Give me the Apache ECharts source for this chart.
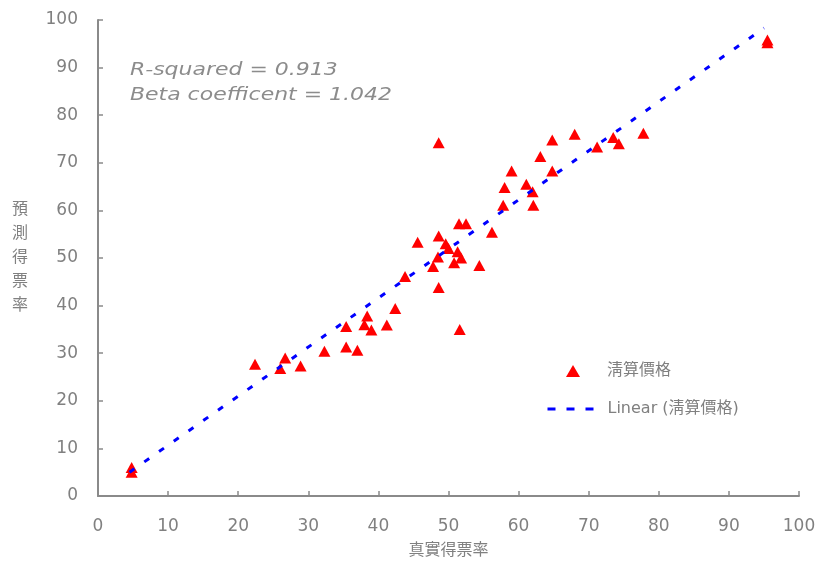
<!DOCTYPE html>
<html>
<head>
<meta charset="utf-8">
<script src="https://cdn.jsdelivr.net/npm/echarts@6/dist/echarts.min.js"></script>
<style>html,body{margin:0;padding:0;background:#fff;}#c{width:822px;height:561px;}</style>
</head>
<body>
<div id="c"></div>
<script>
// Actual vote share (x) and predicted vote share (y)
const actualX = [4.8, 4.8, 22.4, 26.0, 26.7, 28.9, 32.3, 35.4, 37.0, 35.4, 38.0, 38.4, 39.0, 41.2, 42.4, 43.8,
  45.6, 48.6, 49.6, 50.0, 51.3, 51.8, 48.5, 50.8, 47.8, 54.4, 48.6, 51.6, 51.5, 52.5, 56.2,
  57.8, 58.0, 59.0, 61.1, 62.0, 62.1, 63.1, 64.8, 64.8, 48.6, 68.0, 71.2, 73.5, 74.3, 77.8, 95.5, 95.5];
const predictedY = [6.0, 5.0, 27.7, 26.8, 29.0, 27.3, 30.4, 31.3, 30.6, 35.6, 36.0, 37.8, 34.9, 35.9, 39.4, 46.1,
  53.3, 54.6, 53.0, 52.0, 51.3, 50.0, 50.2, 49.0, 48.2, 48.4, 43.8, 35.0, 57.2, 57.2, 55.4,
  61.1, 64.8, 68.3, 65.5, 63.9, 61.1, 71.3, 68.3, 74.8, 74.2, 76.0, 73.3, 75.3, 74.0, 76.2, 95.8, 95.2];
// Linear trendline endpoints
const trendX = [4.5, 95.0];
const trendY = [5.0, 98.3];
const xTicks = [0, 10, 20, 30, 40, 50, 60, 70, 80, 90, 100];
const yTicks = [0, 10, 20, 30, 40, 50, 60, 70, 80, 90, 100];
const seriesName = '淸算價格';
const trendName = 'Linear (淸算價格)';
const statLines = ['R-squared = 0.913', 'Beta coefficent = 1.042'];

const FONT = 'DejaVu Sans, "Noto Sans CJK KR", sans-serif';
const GRAY = '#808080';
const chart = echarts.init(document.getElementById('c'), null, {renderer: 'canvas'});
const scatterData = actualX.map((x, i) => [x, predictedY[i]]);
const trendData = trendX.map((x, i) => [x, trendY[i]]);
const axisCommon = {
  type: 'value', min: xTicks[0], max: xTicks[xTicks.length - 1], interval: 10,
  axisLine: {show: true, lineStyle: {color: '#8a8a8a', width: 2}},
  axisTick: {show: true, inside: true, length: 5, lineStyle: {color: '#8a8a8a', width: 1.5}},
  splitLine: {show: false},
  axisLabel: {color: GRAY, fontSize: 17, fontFamily: FONT},
  nameTextStyle: {color: GRAY, fontSize: 16, fontFamily: FONT}
};
const legendText = {color: GRAY, fontSize: 16, fontFamily: FONT, lineHeight: 20};
chart.setOption({
  animation: false,
  backgroundColor: '#fff',
  grid: {left: 98, right: 23, top: 20, bottom: 65, containLabel: false, outerBoundsMode: 'none'},
  xAxis: Object.assign({}, axisCommon, {
    name: '真實得票率', nameLocation: 'middle', nameGap: 47,
    axisLabel: Object.assign({}, axisCommon.axisLabel, {margin: 22})
  }),
  yAxis: Object.assign({}, axisCommon, {
    min: yTicks[0], max: yTicks[yTicks.length - 1],
    name: '預\n測\n得\n票\n率', nameLocation: 'middle', nameGap: 70, nameRotate: 0,
    nameTextStyle: {color: GRAY, fontSize: 16, fontFamily: FONT, lineHeight: 24, align: 'right'},
    axisLabel: Object.assign({}, axisCommon.axisLabel, {margin: 20})
  }),
  legend: [
    {
      left: 566, top: 361, padding: 0, itemWidth: 14, itemHeight: 12,
      textStyle: Object.assign({}, legendText, {padding: [0, 0, 0, 22]}),
      data: [{name: seriesName, icon: 'triangle'}]
    },
    {
      left: 546, top: 399, padding: 0, itemWidth: 46, itemHeight: 14,
      itemStyle: {color: 'rgba(0,0,0,0)', borderWidth: 0},
      lineStyle: {type: [8, 11], width: 3},
      textStyle: Object.assign({}, legendText, {padding: [0, 0, 0, 9]}),
      data: [{name: trendName}]
    }
  ],
  graphic: [
    {type: 'text', left: 130, top: 61, scaleX: 1.22, style: {text: statLines[0], fill: '#8c8c8c', font: 'italic 18px DejaVu Sans'}},
    {type: 'text', left: 130, top: 86, scaleX: 1.22, style: {text: statLines[1], fill: '#8c8c8c', font: 'italic 18px DejaVu Sans'}}
  ],
  series: [
    {
      name: trendName, type: 'line', data: trendData, symbol: 'none', z: 3,
      lineStyle: {color: '#0000ff', width: 3, type: [6, 12]}, itemStyle: {color: '#0000ff'}
    },
    {
      name: seriesName, type: 'scatter', data: scatterData, symbol: 'triangle', symbolSize: [12, 11], z: 2,
      itemStyle: {color: '#ff0000', opacity: 1}
    }
  ]
});
</script>
</body>
</html>
